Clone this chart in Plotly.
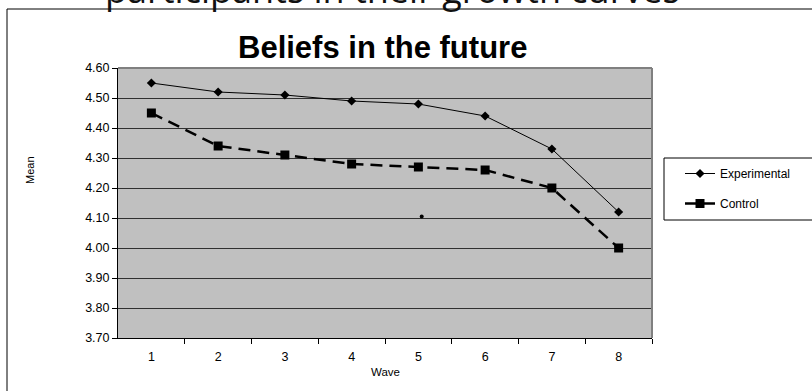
import plotly.graph_objects as go

# Mean scores per survey wave
waves = [1, 2, 3, 4, 5, 6, 7, 8]
wave_labels = ["1", "2", "3", "4", "5", "6", "7", "8"]
experimental = [4.55, 4.52, 4.51, 4.49, 4.48, 4.44, 4.33, 4.12]
control = [4.45, 4.34, 4.31, 4.28, 4.27, 4.26, 4.20, 4.00]
y_ticks = [3.70, 3.80, 3.90, 4.00, 4.10, 4.20, 4.30, 4.40, 4.50, 4.60]
# a lone speck inside the plot area
speck_x = [5.05]
speck_y = [4.105]

W, H = 812, 391
L, R, T, B = 118, 652, 68, 338          # plot area in pixels


def px(x):
    return (x - L) / (R - L)


def py(y):
    return (B - y) / (B - T)


fig = go.Figure()
fig.add_trace(go.Scatter(
    x=waves, y=experimental, name="Experimental", mode="lines+markers",
    line=dict(color="black", width=1),
    marker=dict(symbol="diamond", size=7, color="black"),
    legendgroup="a",
))
fig.add_trace(go.Scatter(
    x=waves, y=control, name="Control", mode="lines+markers",
    line=dict(color="black", width=2.5, dash="12px,7px"),
    marker=dict(symbol="square", size=9, color="black"),
    legendgroup="b",
))
fig.add_trace(go.Scatter(
    x=speck_x, y=speck_y, mode="markers", showlegend=False,
    marker=dict(symbol="circle", size=4, color="black"), hoverinfo="skip",
))

FONT = "Liberation Sans, Arial, sans-serif"
axis_font = dict(family=FONT, size=12.5, color="black")

fig.update_layout(
    width=W, height=H,
    margin=dict(l=L, r=W - R, t=T, b=H - B, pad=0),
    paper_bgcolor="white",
    plot_bgcolor="#C0C0C0",
    showlegend=True,
    legend=dict(
        x=px(680), y=py(159), xanchor="left", yanchor="top",
        bgcolor="rgba(0,0,0,0)", borderwidth=0,
        font=dict(family=FONT, size=12, color="black"),
        traceorder="grouped", tracegroupgap=11,
    ),
    xaxis=dict(
        range=[0.5, 8.5], tickmode="array", tickvals=waves, ticktext=wave_labels,
        ticks="", showgrid=False, zeroline=False,
        showline=True, linecolor="black", linewidth=1,
        tickfont=axis_font, ticklabelstandoff=7,
    ),
    xaxis2=dict(
        overlaying="x", side="bottom", range=[0.5, 8.5],
        tickmode="array", tickvals=[w + 0.5 for w in waves],
        ticks="outside", ticklen=5, tickcolor="black", tickwidth=1,
        showticklabels=False, showgrid=False, zeroline=False, showline=False,
    ),
    yaxis=dict(
        range=[3.7, 4.6], tickmode="array", tickvals=y_ticks,
        ticktext=[f"{v:.2f}" for v in y_ticks],
        ticks="outside", ticklen=5, tickcolor="black",
        showgrid=True, gridcolor="#303030", gridwidth=1, zeroline=False,
        showline=True, linecolor="black", linewidth=1,
        tickfont=axis_font,
    ),
    shapes=[
        # grey frame on the top and right of the plot area
        dict(type="line", xref="paper", yref="paper", x0=0, x1=1, y0=1, y1=1,
             line=dict(color="#808080", width=2)),
        dict(type="line", xref="paper", yref="paper", x0=1, x1=1, y0=0, y1=1,
             line=dict(color="#808080", width=2)),
        # chart border
        dict(type="rect", xref="paper", yref="paper",
             x0=px(7), x1=px(815), y0=py(394), y1=py(9),
             line=dict(color="black", width=1), fillcolor="rgba(0,0,0,0)"),
        # legend frame
        dict(type="rect", xref="paper", yref="paper",
             x0=px(664), x1=px(815), y0=py(220), y1=py(158),
             line=dict(color="black", width=1), fillcolor="white", layer="below"),
    ],
    annotations=[
        dict(text="participants in their growth curves", xref="paper", yref="paper",
             x=px(392), y=py(16), xanchor="center", yanchor="bottom", showarrow=False,
             font=dict(family="Open Sans, sans-serif", size=36, color="#111111")),
        dict(text="<b>Beliefs in the future</b>", xref="paper", yref="paper",
             x=px(382), y=py(48), xanchor="center", yanchor="middle", showarrow=False,
             font=dict(family=FONT, size=31, color="black")),
        dict(text="Mean", xref="paper", yref="paper", x=px(30), y=py(170),
             xanchor="center", yanchor="middle", textangle=-90, showarrow=False,
             font=dict(family=FONT, size=11, color="black")),
        dict(text="Wave", xref="paper", yref="paper", x=px(385), y=py(372),
             xanchor="center", yanchor="middle", showarrow=False,
             font=dict(family=FONT, size=11.5, color="black")),
    ],
)

fig.add_trace(go.Scatter(x=[None], y=[None], xaxis="x2", showlegend=False, hoverinfo="skip"))

fig.write_html("out.html")
